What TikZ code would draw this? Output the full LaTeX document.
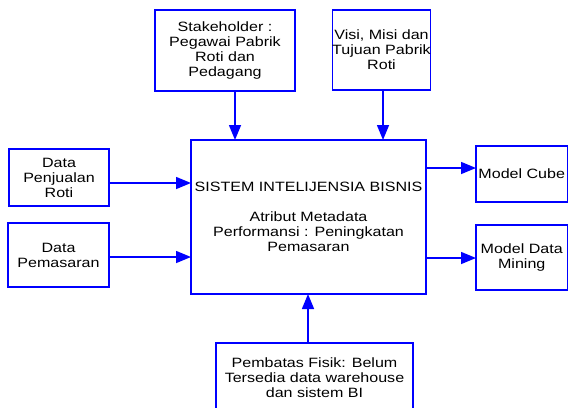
\documentclass[tikz,border=0pt]{standalone}
\usepackage{fontspec}
\setmainfont{Liberation Sans}[FakeStretch=1.19]
\usetikzlibrary{arrows.meta}
\definecolor{bblue}{RGB}{0,0,255}
\tikzset{
  box/.style={draw=bblue, line width=1.3pt, rectangle, inner sep=0pt, outer sep=0pt, align=center,
    font=\fontsize{13.5}{15}\selectfont},
  arr/.style={draw=bblue, line width=1.5pt, -{Triangle[length=15pt,width=12pt]}}
}
\begin{document}
\begin{tikzpicture}[x=1pt,y=-1pt]
\useasboundingbox (0,0) rectangle (569,407);
\node[box, minimum width=140, minimum height=81] (stake) at (225,50.5) {Stakeholder :\\Pegawai Pabrik\\Roti dan\\Pedagang};
\node[box, minimum width=97, minimum height=80] (visi) at (381.5,50) {Visi, Misi dan\\Tujuan Pabrik\\Roti};
\node[box, minimum width=235, minimum height=154] (main) at (308.5,217) {SISTEM INTELIJENSIA BISNIS\\[15pt]Atribut Metadata\\Performansi : Peningkatan\\Pemasaran};
\node[box, minimum width=100, minimum height=57] (penj) at (59,177.5) {Data\\Penjualan\\Roti};
\node[box, minimum width=101, minimum height=64] (pem) at (58.5,255) {Data\\Pemasaran};
\node[box, minimum width=91.5, minimum height=56] (cube) at (521.75,174) {Model Cube};
\node[box, minimum width=91.5, minimum height=65] (dm) at (521.75,257.5) {Model Data\\Mining};
\node[box, minimum width=197, minimum height=70] (bot) at (314.5,378) {Pembatas Fisik: Belum\\Tersedia data warehouse\\dan sistem BI};
\draw[arr] ([xshift=10pt]stake.south) -- ([xshift=10pt]stake.south |- main.north);
\draw[arr] ([xshift=1.5pt]visi.south) -- ([xshift=1.5pt]visi.south |- main.north);
\draw[arr] ([yshift=-5.5pt]penj.east) -- ([yshift=-5.5pt]penj.east -| main.west);
\draw[arr] ([yshift=-2pt]pem.east) -- ([yshift=-2pt]pem.east -| main.west);
\draw[arr] ([yshift=6pt]cube.west -| main.east) -- ([yshift=6pt]cube.west);
\draw[arr] ([yshift=-0.5pt]dm.west -| main.east) -- ([yshift=-0.5pt]dm.west);
\draw[arr] ([xshift=-6.5pt]bot.north) -- ([xshift=-6.5pt]bot.north |- main.south);
\end{tikzpicture}
\end{document}
